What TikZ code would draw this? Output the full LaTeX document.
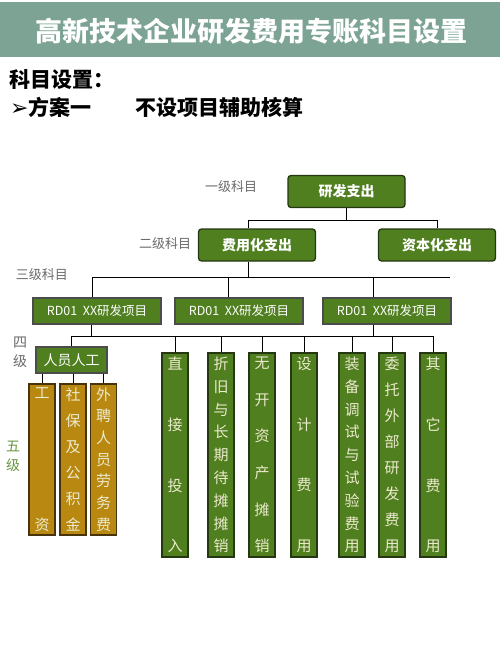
\documentclass[tikz,border=0pt]{standalone}
\usepackage{fontspec}
\setmainfont{Noto Sans CJK SC}
\newfontfamily\sym{DejaVu Sans}
\definecolor{bandeau}{RGB}{124,163,148}
\definecolor{vert}{RGB}{79,127,31}
\definecolor{vertfonce}{RGB}{38,56,18}
\definecolor{ocre}{RGB}{184,136,16}
\definecolor{ocrefonce}{RGB}{72,52,10}
\definecolor{creme}{RGB}{236,234,205}
\definecolor{gris}{RGB}{105,105,105}
\definecolor{vertclair}{RGB}{104,150,64}
\newcommand{\taille}[1]{\fontsize{#1}{#1}\selectfont}
\newcommand{\vgap}{\par\vfill}
\newcommand{\pile}[2]{\parbox[c][#1][s]{1.5em}{\centering #2}}

\begin{document}
\begin{tikzpicture}[x=1pt, y=-1pt,
    haut/.style={draw=vertfonce, line width=1.3pt, fill=vert, rounded corners=3pt, text=white,
      font=\bfseries\taille{14}, minimum width=117pt, minimum height=32pt, inner sep=0pt},
    projet/.style={draw=black!70, line width=1.2pt, fill=vert, text=white,
      font=\taille{12.5}, minimum width=128pt, minimum height=26pt, inner sep=0pt},
    colonne/.style={draw=vertfonce, line width=1.2pt, fill=vert, text=creme,
      font=\taille{15}, minimum width=26pt, minimum height=204pt, inner sep=0pt},
    colocre/.style={draw=ocrefonce, line width=1.2pt, fill=ocre, text=creme,
      font=\taille{15}, minimum width=26pt, minimum height=151pt, inner sep=0pt},
    niveau/.style={text=gris, font=\taille{13}, inner sep=0pt},
    trait/.style={draw=black, line width=0.9pt}]
  \useasboundingbox (0,0) rectangle (500,666);

  % bandeau et titres
  \fill[bandeau] (0,2) rectangle (500,57);
  \node[text=white, font=\bfseries\taille{27}, inner sep=0pt] (titre) at (251,31) {高新技术企业研发费用专账科目设置};
  \node[anchor=west, font=\bfseries\taille{21}, inner sep=0pt] (kmsz) at (9,80) {科目设置：};
  \node[anchor=west, font=\bfseries\taille{21}, inner sep=0pt] (fa) at (10,107) {{\sym\bfseries\taille{22}➢}方案一};
  \node[anchor=west, font=\bfseries\taille{21}, inner sep=0pt] (bsxm) at (135,107) {不设项目辅助核算};

  % niveaux
  \node[niveau] (n1) at (231,187) {一级科目};
  \node[niveau] (n2) at (165,244) {二级科目};
  \node[niveau] (n3) at (42,275) {三级科目};
  \node[niveau, font=\fontsize{14}{19}\selectfont, align=center] (n4) at (20,352) {四\\级};
  \node[niveau, text=vertclair, font=\fontsize{14}{19}\selectfont, align=center] (n5) at (13,456) {五\\级};

  % un et deux
  \node[haut] (yf) at (346.5,191.5) {研发支出};
  \node[haut] (fy) at (257,245) {费用化支出};
  \node[haut] (zb) at (437,245) {资本化支出};

  % trois
  \node[projet] (rd1) at (97,311) {RD01\ \ XX研发项目};
  \node[projet] (rd2) at (239,311) {RD01\ \ XX研发项目};
  \node[projet] (rd3) at (387,311) {RD01\ \ XX研发项目};

  % quatre
  \node[projet, minimum width=71pt, font=\taille{14}] (ry) at (71.5,360) {人员人工};
  \node[colonne] (c1) at (175,455) {\pile{195pt}{直\vgap 接\vgap 投\vgap 入}};
  \node[colonne] (c2) at (221,455) {\pile{195pt}{折\vgap 旧\vgap 与\vgap 长\vgap 期\vgap 待\vgap 摊\vgap 摊\vgap 销}};
  \node[colonne] (c3) at (262,455) {\pile{195pt}{无\vgap 开\vgap 资\vgap 产\vgap 摊\vgap 销}};
  \node[colonne] (c4) at (304,455) {\pile{195pt}{设\vgap 计\vgap 费\vgap 用}};
  \node[colonne] (c5) at (352,455) {\pile{195pt}{装\vgap 备\vgap 调\vgap 试\vgap 与\vgap 试\vgap 验\vgap 费\vgap 用}};
  \node[colonne] (c6) at (392,455) {\pile{195pt}{委\vgap 托\vgap 外\vgap 部\vgap 研\vgap 发\vgap 费\vgap 用}};
  \node[colonne] (c7) at (433,455) {\pile{195pt}{其\vgap 它\vgap 费\vgap 用}};

  % cinq
  \node[colocre] (g1) at (42,459.5) {\pile{143pt}{工\vgap 资}};
  \node[colocre] (g2) at (73,459.5) {\pile{143pt}{社\vgap 保\vgap 及\vgap 公\vgap 积\vgap 金}};
  \node[colocre] (g3) at (103.5,459.5) {\pile{143pt}{外\vgap 聘\vgap 人\vgap 员\vgap 劳\vgap 务\vgap 费}};

  % liaisons
  \coordinate (r1) at (0,220);
  \coordinate (r2) at (0,277);
  \coordinate (r3) at (0,336);
  \draw[trait] (yf.south) -- (yf.south |- r1);
  \draw[trait] ([xshift=-9pt]fy.north) |- (zb.north |- r1) -- (zb.north);
  \draw[trait] ([xshift=-9pt]fy.south) -- ([xshift=-9pt]fy.south |- r2);
  \draw[trait] ([xshift=-5pt]rd1.north) |- ([xshift=63pt]rd3.north |- r2);
  \draw[trait] ([xshift=-11pt]rd2.north) -- ([xshift=-11pt]rd2.north |- r2);
  \draw[trait] ([xshift=-14pt]rd3.north) -- ([xshift=-14pt]rd3.north |- r2);
  \draw[trait] ([xshift=-6pt]rd1.south) -- ([xshift=-6pt]rd1.south |- r3);
  \draw[trait] ([xshift=-14pt]rd3.south) -- ([xshift=-14pt]rd3.south |- r3);
  \draw[trait] (ry.north) |- (c7.north |- r3) -- (c7.north);
  \draw[trait] (c1.north) -- (c1.north |- r3);
  \draw[trait] (c2.north) -- (c2.north |- r3);
  \draw[trait] (c3.north) -- (c3.north |- r3);
  \draw[trait] (c4.north) -- (c4.north |- r3);
  \draw[trait] (c5.north) -- (c5.north |- r3);
  \draw[trait] (c6.north) -- (c6.north |- r3);
  \draw[trait] (g1.north) -- (g1.north |- ry.south);
  \draw[trait] (g2.north) -- (g2.north |- ry.south);
  \draw[trait] (g3.north) -- (g3.north |- ry.south);
\end{tikzpicture}
\end{document}
